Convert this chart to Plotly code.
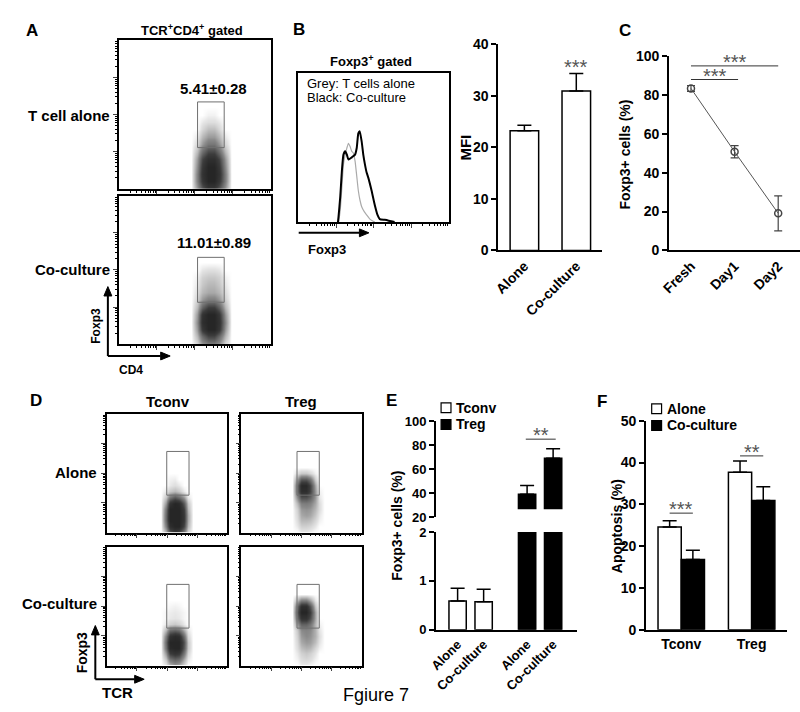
import math
import plotly.graph_objects as go

W, H = 800, 712
FONT = "Arial, 'Liberation Sans', Helvetica, sans-serif"

# ---------------- data ----------------
# A / D dot plots: estimated event density (0-1) on a log grid (decades)
flow_y = [0.0, 0.2, 0.4, 0.6, 0.8, 1.0, 1.2, 1.4, 1.6, 1.8, 2.0, 2.2, 2.4]
a_x = [1.9, 2.05, 2.2, 2.35, 2.5, 2.65, 2.8, 2.95]
tconv_x = [1.8, 1.95, 2.1, 2.25, 2.4, 2.55, 2.7, 2.85]
treg_x = [1.7, 1.85, 2.0, 2.15, 2.3, 2.45, 2.6, 2.75]

dens_a_alone = [
    [0, .30, .60, .80, .80, .60, .30, 0],
    [0, .40, .80, 1.0, 1.0, .80, .40, 0],
    [0, .40, .85, 1.0, 1.0, .85, .40, 0],
    [0, .35, .80, 1.0, 1.0, .80, .35, 0],
    [0, .30, .70, .90, .90, .70, .30, 0],
    [0, .20, .50, .70, .70, .50, .20, 0],
    [0, .10, .30, .45, .45, .30, .10, 0],
    [0, .05, .20, .30, .30, .20, .05, 0],
    [0, 0, .10, .18, .18, .10, 0, 0],
    [0, 0, .05, .08, .08, .05, 0, 0],
    [0, 0, 0, .03, .03, 0, 0, 0],
    [0, 0, 0, 0, 0, 0, 0, 0],
    [0, 0, 0, 0, 0, 0, 0, 0],
]
dens_a_coculture = [
    [0, .10, .30, .40, .40, .30, .10, 0],
    [0, .20, .50, .70, .70, .50, .20, 0],
    [0, .30, .80, 1.0, 1.0, .80, .30, 0],
    [0, .35, .90, 1.0, 1.0, .85, .35, 0],
    [0, .30, .85, 1.0, 1.0, .80, .30, 0],
    [0, .20, .55, .75, .75, .55, .20, 0],
    [0, .12, .30, .40, .40, .30, .12, 0],
    [0, .08, .20, .25, .25, .20, .08, 0],
    [0, .05, .15, .20, .20, .15, .05, 0],
    [0, .03, .12, .15, .15, .12, .03, 0],
    [0, 0, .06, .08, .08, .06, 0, 0],
    [0, 0, 0, 0, 0, 0, 0, 0],
    [0, 0, 0, 0, 0, 0, 0, 0],
]
dens_tconv_alone = [
    [0, .20, .60, .80, .70, .40, .10, 0],
    [0, .40, .90, 1.0, 1.0, .70, .20, 0],
    [0, .50, 1.0, 1.0, 1.0, .80, .25, 0],
    [0, .50, 1.0, 1.0, 1.0, .80, .25, 0],
    [0, .45, 1.0, 1.0, 1.0, .75, .20, 0],
    [0, .30, .85, 1.0, .95, .60, .15, 0],
    [0, .15, .45, .60, .50, .30, .05, 0],
    [0, .05, .15, .20, .15, .05, 0, 0],
    [0, 0, .05, .08, .05, 0, 0, 0],
    [0, 0, .03, .04, 0, 0, 0, 0],
    [0, 0, 0, 0, 0, 0, 0, 0],
    [0, 0, 0, 0, 0, 0, 0, 0],
    [0, 0, 0, 0, 0, 0, 0, 0],
]
dens_treg_alone = [
    [0, 0, .05, .05, .03, 0, 0, 0],
    [0, .05, .12, .12, .10, .05, 0, 0],
    [0, .08, .20, .20, .18, .10, .03, 0],
    [0, .10, .25, .28, .25, .15, .05, 0],
    [0, .12, .30, .32, .30, .20, .08, 0],
    [0, .20, .40, .42, .38, .25, .08, 0],
    [0, .35, .65, .65, .55, .30, .05, 0],
    [0, .50, .90, .90, .70, .30, .03, 0],
    [0, .50, .95, .95, .70, .25, 0, 0],
    [0, .30, .60, .60, .45, .12, 0, 0],
    [0, .08, .15, .15, .10, .03, 0, 0],
    [0, 0, 0, 0, 0, 0, 0, 0],
    [0, 0, 0, 0, 0, 0, 0, 0],
]
dens_tconv_coculture = [
    [0, .05, .20, .30, .25, .10, 0, 0],
    [0, .15, .45, .55, .50, .25, .05, 0],
    [0, .30, .75, .85, .80, .45, .10, 0],
    [0, .45, .95, 1.0, 1.0, .60, .15, 0],
    [0, .50, 1.0, 1.0, 1.0, .65, .15, 0],
    [0, .40, .85, .95, .90, .50, .10, 0],
    [0, .20, .50, .55, .50, .25, .05, 0],
    [0, .05, .12, .15, .12, .05, 0, 0],
    [0, .02, .05, .06, .05, .02, 0, 0],
    [0, .02, .04, .05, .04, .02, 0, 0],
    [0, 0, .02, .03, .02, 0, 0, 0],
    [0, 0, 0, 0, 0, 0, 0, 0],
    [0, 0, 0, 0, 0, 0, 0, 0],
]
dens_treg_coculture = [
    [0, 0, .04, .04, .02, 0, 0, 0],
    [0, .03, .08, .10, .08, .03, 0, 0],
    [0, .05, .12, .15, .12, .06, 0, 0],
    [0, .08, .18, .22, .20, .10, .03, 0],
    [0, .10, .25, .30, .28, .18, .06, 0],
    [0, .12, .30, .35, .32, .22, .08, 0],
    [0, .15, .35, .38, .35, .22, .06, 0],
    [0, .30, .55, .55, .45, .20, .03, 0],
    [0, .50, .85, .85, .65, .25, 0, 0],
    [0, .60, 1.0, 1.0, .75, .25, 0, 0],
    [0, .50, .90, .90, .60, .15, 0, 0],
    [0, .20, .40, .40, .25, .05, 0, 0],
    [0, 0, 0, 0, 0, 0, 0, 0],
]
gate_labels_a = ["5.41±0.28", "11.01±0.89"]

# B: Foxp3 histogram overlay (x in log decades, y relative count)
hist_black_x = [1.050, 1.066, 1.111, 1.155, 1.197, 1.242, 1.287, 1.329, 1.418, 1.505, 1.549,
                1.591, 1.628, 1.681, 1.723, 1.767, 1.812, 1.854, 1.943, 2.030, 2.101, 2.161,
                2.293, 2.379, 2.468, 2.555]
hist_black_y = [0, 3.7, 16.8, 34.2, 45.1, 47.3, 45.1, 41.8, 43.3, 45.1, 49.5,
                59.3, 60.8, 53.8, 45.1, 38.6, 33.1, 29.9, 21.1, 11.3, 4.8, 2.0,
                1.5, 1.1, 0.5, 0]
hist_grey_x = [1.071, 1.111, 1.155, 1.197, 1.242, 1.287, 1.329, 1.373, 1.418, 1.460,
               1.505, 1.549, 1.591, 1.636, 1.681, 1.749, 1.812, 1.899, 1.985, 2.030]
hist_grey_y = [0, 8.0, 23.3, 38.6, 45.1, 49.5, 52.7, 50.5, 47.3, 46.2,
               40.7, 30.9, 21.1, 14.6, 10.3, 7.0, 4.8, 2.0, 0.5, 0]

# B: MFI
mfi_groups = ["Alone", "Co-culture"]
mfi_mean = [23.2, 30.9]
mfi_err = [1.1, 3.4]

# C: Foxp3+ cells over time
time_points = ["Fresh", "Day1", "Day2"]
foxp3_time_mean = [83.4, 50.8, 19.1]
foxp3_time_err = [1.5, 3.2, 9.0]

# E: Foxp3+ cells, broken axis
e_labels = ["Alone", "Co-culture", "Alone", "Co-culture"]
tconv_foxp3 = [0.59, 0.57]
tconv_foxp3_err = [0.26, 0.26]
treg_foxp3 = [39.1, 69.0]
treg_foxp3_err = [7.3, 7.9]

# F: apoptosis
apop_groups = ["Tconv", "Treg"]
apop_alone = [24.6, 37.7]
apop_alone_err = [1.5, 2.7]
apop_cocult = [16.8, 30.9]
apop_cocult_err = [2.2, 3.3]


# ---------------- helpers ----------------
def dx(a, b):
    return [a / W, b / W]


def dy(top, bottom):
    return [1 - bottom / H, 1 - top / H]


def px(x):
    return x / W


def py(y):
    return 1 - y / H


def note(text, x, y, size=14, bold=True, xanchor="center", yanchor="middle", angle=0, color="black"):
    if bold:
        text = "<b>" + text + "</b>"
    return dict(text=text, x=px(x), y=py(y), xref="paper", yref="paper", showarrow=False,
                font=dict(family=FONT, size=size, color=color), xanchor=xanchor,
                yanchor=yanchor, textangle=angle)


shapes = []


def arrow(x0, y0, x1, y1, head=6):
    # straight line with a filled triangular head at (x1, y1), in pixels
    if x0 == x1:
        sgn = -1 if y1 < y0 else 1
        tail_end = y1 - sgn * head * 1.6
        shapes.append(dict(type="line", xref="paper", yref="paper", x0=px(x0), x1=px(x1),
                           y0=py(y0), y1=py(tail_end), line=dict(color="black", width=2)))
        path = (f"M {px(x1)} {py(y1)} L {px(x1 - head / 2 - 1)} {py(tail_end)} "
                f"L {px(x1 + head / 2 + 1)} {py(tail_end)} Z")
    else:
        sgn = -1 if x1 < x0 else 1
        tail_end = x1 - sgn * head * 1.6
        shapes.append(dict(type="line", xref="paper", yref="paper", x0=px(x0), x1=px(tail_end),
                           y0=py(y0), y1=py(y1), line=dict(color="black", width=2)))
        path = (f"M {px(x1)} {py(y1)} L {px(tail_end)} {py(y1 - head / 2 - 1)} "
                f"L {px(tail_end)} {py(y1 + head / 2 + 1)} Z")
    shapes.append(dict(type="path", xref="paper", yref="paper", path=path,
                       fillcolor="black", line=dict(color="black", width=1)))


minor_vals = [d + math.log10(k) for d in range(4) for k in range(2, 10)]


def flow_axis(domain):
    return dict(domain=domain, range=[0, 4], showline=True, mirror=True, linecolor="black",
                linewidth=1.5, ticks="outside", ticklen=4, tickwidth=1, tickvals=[1, 2, 3],
                showticklabels=False, showgrid=False, zeroline=False,
                minor=dict(tickmode="array", tickvals=minor_vals, ticks="outside", ticklen=2,
                           tickwidth=1, tickcolor="black"))


def value_axis(domain, rng, tickvals, size=14):
    return dict(domain=domain, range=rng, tickvals=tickvals, showline=True, linecolor="black",
                linewidth=2, ticks="outside", ticklen=5, tickwidth=2, tickcolor="black",
                tickfont=dict(family=FONT, size=size, color="black", weight="bold"),
                showgrid=False, zeroline=False)


def cat_axis(domain, rng, size=14, angle=-45):
    return dict(domain=domain, range=rng, showline=True, linecolor="black", linewidth=2,
                ticks="", tickangle=angle, showgrid=False, zeroline=False,
                tickfont=dict(family=FONT, size=size, color="black", weight="bold"))


fig = go.Figure()
layout_axes = {}


def set_axes(i, xopts, yopts):
    xk = "xaxis" if i == 1 else f"xaxis{i}"
    yk = "yaxis" if i == 1 else f"yaxis{i}"
    xopts["anchor"] = "y" if i == 1 else f"y{i}"
    yopts["anchor"] = "x" if i == 1 else f"x{i}"
    layout_axes[xk] = xopts
    layout_axes[yk] = yopts


def ref(i):
    return ("x", "y") if i == 1 else (f"x{i}", f"y{i}")


dot_scale = [[0, "#ffffff"], [0.06, "#e4e4e4"], [0.35, "#8a8a8a"], [0.75, "#3c3c3c"],
             [1, "#262626"]]

# ---------------- A and D: dot plots ----------------
flow_panels = [
    # axis index, x domain px, y domain px, x grid, density, gate box (decades)
    (1, (111, 265), (33, 185), a_x, dens_a_alone, (2.07, 2.77, 1.11, 2.34)),
    (2, (111, 265), (192, 344), a_x, dens_a_coculture, (2.07, 2.77, 1.13, 2.34)),
    (6, (99, 220.7), (415, 536.7), tconv_x, dens_tconv_alone, (1.99, 2.73, 1.26, 2.73)),
    (7, (235, 356.7), (415, 536.7), treg_x, dens_treg_alone, (1.85, 2.59, 1.26, 2.73)),
    (8, (99, 220.7), (551, 672.7), tconv_x, dens_tconv_coculture, (1.99, 2.73, 1.26, 2.73)),
    (9, (235, 356.7), (551, 672.7), treg_x, dens_treg_coculture, (1.85, 2.59, 1.26, 2.73)),
]
for i, (x0, x1), (y0, y1), gx, dens, gate in flow_panels:
    set_axes(i, flow_axis(dx(x0, x1)), flow_axis(dy(y0, y1)))
    xr, yr = ref(i)
    fig.add_trace(go.Heatmap(x=gx, y=flow_y, z=dens, zmin=0, zmax=1, zsmooth="best",
                             colorscale=dot_scale, showscale=False, hoverinfo="skip",
                             xaxis=xr, yaxis=yr))
    shapes.append(dict(type="rect", xref=xr, yref=yr, x0=gate[0], x1=gate[1], y0=gate[2],
                       y1=gate[3], line=dict(color="#707070", width=1), layer="above"))

# ---------------- B: histogram ----------------
hist_ax = dict(domain=dx(292.7, 445), range=[0, 4], showline=True, mirror=True,
               linecolor="black", linewidth=1.5, ticks="outside", ticklen=4, tickwidth=1,
               tickvals=[1, 2, 3], showticklabels=False, showgrid=False, zeroline=False,
               minor=dict(tickmode="array", tickvals=minor_vals, ticks="outside", ticklen=2,
                          tickwidth=1, tickcolor="black"))
hist_ay = dict(domain=dy(66, 219), range=[0, 100], showline=True, mirror=True,
               linecolor="black", linewidth=1.5, ticks="", showticklabels=False,
               showgrid=False, zeroline=False)
set_axes(3, hist_ax, hist_ay)
fig.add_trace(go.Scatter(x=hist_grey_x, y=hist_grey_y, mode="lines", name="T cells alone",
                         line=dict(color="#aaaaaa", width=1.2, shape="spline", smoothing=0.5),
                         xaxis="x3", yaxis="y3", hoverinfo="skip"))
fig.add_trace(go.Scatter(x=hist_black_x, y=hist_black_y, mode="lines", name="Co-culture",
                         line=dict(color="black", width=2, shape="spline", smoothing=0.5),
                         xaxis="x3", yaxis="y3", hoverinfo="skip"))

# ---------------- B: MFI bars ----------------
set_axes(4, cat_axis(dx(495, 600), [-0.5, 1.5]),
         value_axis(dy(37, 248), [0, 40], [0, 10, 20, 30, 40]))
fig.add_trace(go.Bar(x=mfi_groups, y=mfi_mean, width=0.55,
                     marker=dict(color="white", line=dict(color="black", width=1.5)),
                     error_y=dict(type="data", array=mfi_err, arrayminus=[0, 0],
                                  symmetric=False, width=7, thickness=1.5, color="black"),
                     xaxis="x4", yaxis="y4"))

# ---------------- C: time course ----------------
set_axes(5, cat_axis(dx(667.7, 800), [-0.5, 2.5]),
         value_axis(dy(49.3, 248), [0, 100], [0, 20, 40, 60, 80, 100]))
fig.add_trace(go.Scatter(x=time_points, y=foxp3_time_mean, mode="lines+markers",
                         line=dict(color="#555555", width=1),
                         marker=dict(symbol="circle-open", size=7, color="#444444",
                                     line=dict(width=1.5)),
                         error_y=dict(type="data", array=foxp3_time_err, width=4,
                                      thickness=1.2, color="#444444"),
                         xaxis="x5", yaxis="y5"))

# ---------------- E: broken axis bars ----------------
GROUP_STEP = 2.67
BAR_W = 0.665
E_BREAK_BASE = 27
e_pos = [g * GROUP_STEP + k for g in range(2) for k in range(2)]
e_range = [-0.825, 4.57]
upper_x = dict(domain=dx(432, 574), range=e_range, visible=False)
set_axes(10, upper_x, value_axis(dy(422.7, 520.7), [20, 100], [20, 40, 60, 80, 100], size=13))
lower_x = cat_axis(dx(432, 574), e_range, size=13)
lower_x.update(tickmode="array", tickvals=e_pos, ticktext=e_labels)
set_axes(11, lower_x, value_axis(dy(536, 636), [0, 2], [0, 1, 2], size=13))

fig.add_trace(go.Bar(x=e_pos[:2], y=tconv_foxp3, width=BAR_W, name="Tconv",
                     marker=dict(color="white", line=dict(color="black", width=1.5)),
                     error_y=dict(type="data", array=tconv_foxp3_err, arrayminus=[0, 0],
                                  symmetric=False, width=7, thickness=1.5, color="black"),
                     xaxis="x11", yaxis="y11"))
fig.add_trace(go.Bar(x=e_pos[2:], y=treg_foxp3, width=BAR_W, name="Treg",
                     marker=dict(color="black", line=dict(color="black", width=1.5)),
                     xaxis="x11", yaxis="y11"))
fig.add_trace(go.Bar(x=e_pos[2:], y=[v - E_BREAK_BASE for v in treg_foxp3], base=E_BREAK_BASE,
                     width=BAR_W, name="Treg",
                     marker=dict(color="black", line=dict(color="black", width=1.5)),
                     xaxis="x10", yaxis="y10"))
fig.add_trace(go.Scatter(x=e_pos[2:], y=treg_foxp3, mode="markers",
                         marker=dict(size=1, color="rgba(0,0,0,0)"),
                         error_y=dict(type="data", array=treg_foxp3_err, arrayminus=[0, 0],
                                      symmetric=False, width=7, thickness=1.5, color="black"),
                         xaxis="x10", yaxis="y10", hoverinfo="skip"))

# ---------------- F: apoptosis ----------------
F_BW = 0.33
set_axes(12, cat_axis(dx(644.3, 786.7), [-0.5, 1.5], size=14, angle=0),
         value_axis(dy(422.3, 636), [0, 50], [0, 10, 20, 30, 40, 50]))
fig.add_trace(go.Bar(x=apop_groups, y=apop_alone, width=F_BW, offset=-F_BW, name="Alone",
                     marker=dict(color="white", line=dict(color="black", width=1.5)),
                     error_y=dict(type="data", array=apop_alone_err, arrayminus=[0, 0],
                                  symmetric=False, width=7, thickness=1.5, color="black"),
                     xaxis="x12", yaxis="y12"))
fig.add_trace(go.Bar(x=apop_groups, y=apop_cocult, width=F_BW, offset=0, name="Co-culture",
                     marker=dict(color="black", line=dict(color="black", width=1.5)),
                     error_y=dict(type="data", array=apop_cocult_err, arrayminus=[0, 0],
                                  symmetric=False, width=7, thickness=1.5, color="black"),
                     xaxis="x12", yaxis="y12"))

# ---------------- significance marks ----------------
STAR = "#555555"
STAR_SIZE = 20


def sig(xr, yr, xa, xb, yv, stars):
    shapes.append(dict(type="line", xref=xr, yref=yr, x0=xa, x1=xb, y0=yv, y1=yv,
                       line=dict(color="#333333", width=1)))
    return dict(text=stars, x=(xa + xb) / 2, y=yv, xref=xr, yref=yr, showarrow=False,
                yanchor="bottom", yshift=-9,
                font=dict(family=FONT, size=STAR_SIZE, color=STAR))


annotations = []
annotations.append(dict(text="***", x=1, y=mfi_mean[1] + mfi_err[1], xref="x4", yref="y4",
                        showarrow=False, yanchor="bottom", yshift=-6,
                        font=dict(family=FONT, size=STAR_SIZE, color=STAR)))
annotations.append(sig("x5", "y5", 0, 2, 95, "***"))
annotations.append(sig("x5", "y5", 0, 1.08, 88, "***"))
annotations.append(sig("x10", "y10", e_pos[2] - 0.05, e_pos[3] + 0.1, 85, "**"))
annotations.append(sig("x12", "y12", -F_BW / 2, F_BW / 2, 27.9, "***"))
annotations.append(sig("x12", "y12", 1 - F_BW / 2, 1 + F_BW / 2, 41.6, "**"))

# ---------------- legends (E and F) ----------------
for (x0, y0, fill, label, size) in [(437, 404, "white", "Tconv", 14), (437, 421, "black", "Treg", 14),
                                    (650, 405, "white", "Alone", 14),
                                    (650, 422, "black", "Co-culture", 14)]:
    shapes.append(dict(type="rect", xref="paper", yref="paper", x0=px(x0), x1=px(x0 + 10),
                       y0=py(y0 + 10), y1=py(y0), fillcolor=fill,
                       line=dict(color="black", width=1.2)))
    annotations.append(note(label, x0 + 13, y0 + 5, size=size, xanchor="left"))

# ---------------- text labels ----------------
for letter, x, y in [("A", 23, 23), ("B", 293, 22), ("C", 623, 23), ("D", 27, 402),
                     ("E", 387, 402), ("F", 600, 403)]:
    annotations.append(note(letter, x, y, size=17))

annotations += [
    note("TCR<sup>+</sup>CD4<sup>+</sup> gated", 185, 23, size=13),
    note(gate_labels_a[0], 207, 82, size=15),
    note(gate_labels_a[1], 207, 240, size=15),
    note("T cell alone", 104, 110, size=15, xanchor="right"),
    note("Co-culture", 104, 268, size=15, xanchor="right"),
    note("Foxp3", 88, 325, size=12, angle=-90),
    note("CD4", 123, 370, size=12),
    note("Foxp3<sup>+</sup> gated", 366, 54, size=13),
    note("Grey: T cells alone", 299, 77, size=13, bold=False, xanchor="left"),
    note("Black: Co-culture", 299, 92, size=13, bold=False, xanchor="left"),
    note("Foxp3", 322, 247, size=13),
    note("MFI", 462, 143, size=15, angle=-90),
    note("Foxp3+ cells (%)", 623, 150, size=14, angle=-90),
    note("Tconv", 161, 403, size=15),
    note("Treg", 295, 403, size=15),
    note("Alone", 91, 475, size=15, xanchor="right"),
    note("Co-culture", 91, 609, size=15, xanchor="right"),
    note("Foxp3", 74, 660, size=14, angle=-90),
    note("TCR", 110, 700, size=15),
    note("Fgiure 7", 371, 703, size=18, bold=False),
    note("Foxp3+ cells (%)", 392, 530, size=14, angle=-90),
    note("Apoptosis (%)", 615, 530, size=14, angle=-90),
]

# axis arrows (A, B, D)
arrow(100, 356, 100, 285)
arrow(100, 356, 163, 356)
arrow(293, 230, 364, 230)
arrow(87.3, 686.7, 87.3, 631.7)
arrow(87.3, 686.7, 136.7, 686.7)

fig.update_layout(
    width=W, height=H, margin=dict(l=0, r=0, t=0, b=0),
    paper_bgcolor="white", plot_bgcolor="white", showlegend=False,
    barmode="overlay", font=dict(family=FONT, color="black"),
    shapes=shapes, annotations=annotations, **layout_axes,
)

fig.write_html("out.html", config={"displayModeBar": False},
               post_script="document.body.style.margin='0';")
